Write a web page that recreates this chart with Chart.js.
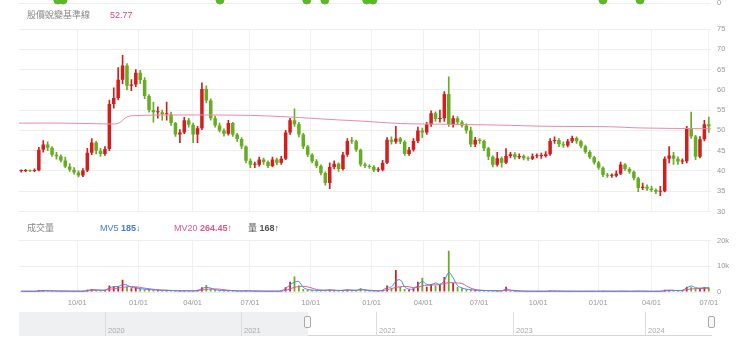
<!DOCTYPE html>
<html>
<head>
<meta charset="utf-8">
<script src="https://cdn.jsdelivr.net/npm/chart.js@4.4.1/dist/chart.umd.min.js"></script>
<style>
  body { margin: 0; background: #fff; font-family: "Liberation Sans", Arial, "Noto Sans CJK TC", sans-serif; }
  #wrap { position: relative; width: 740px; height: 354px; overflow: hidden; }
  canvas { position: absolute; left: 0; }
  .txt { position: absolute; font-size: 9px; line-height: 12px; white-space: nowrap; color: #888; }
  .txt b { font-weight: bold; }
  .nav { position: absolute; }
  .yr { position: absolute; font-size: 7.5px; line-height: 10px; color: #aaa; }
  .handle { position: absolute; width: 5px; height: 10px; border: 1px solid #aaa; border-radius: 2px; background: #f7f7f7; }
</style>
</head>
<body>
<div id="wrap">
  <canvas id="topChart" width="740" height="12" style="top:0"></canvas>
  <canvas id="priceChart" width="740" height="222" style="top:0"></canvas>
  <canvas id="volChart" width="740" height="80" style="top:230px"></canvas>

  <div class="yr" style="left:717px; top:-2px; color:#999;">0</div>
  <div class="txt" style="left:27px; top:9px;">股價蛻變基準線</div>
  <div class="txt" style="left:110px; top:9px; color:#d9487d;">52.77</div>

  <div class="txt" style="left:27px; top:222px;">成交量</div>
  <div class="txt" style="left:100px; top:222px; color:#3f7be0;">MV5 <b>185↓</b></div>
  <div class="txt" style="left:174px; top:222px; color:#e0578c;">MV20 <b>264.45↑</b></div>
  <div class="txt" style="left:248px; top:222px; color:#555;">量 <b>168↑</b></div>

  <!-- navigator -->
  <div class="nav" style="left:19px; top:312px; width:289px; height:24px; background:#eef0f1;"></div>
  <div class="nav" style="left:308px; top:335px; width:404px; height:1px; background:#d5d5d5;"></div>
  <div id="years"></div>
  <div class="handle" style="left:304px; top:316px;"></div>
  <div class="handle" style="left:708px; top:316px;"></div>
</div>

<script>
// weekly candles, Jul 2021 - Jul 2024 (week index 0..156)
const opens = [
  40.0, 40.0, 40.1, 40.0, 40.2, 45.2, 46.5, 45.7, 44.0, 43.6,
  42.6, 41.1, 40.3, 39.6, 38.9, 40.1, 44.5, 47.0, 45.0, 44.2,
  45.4, 56.5, 58.0, 62.5, 66.0, 61.0, 61.3, 64.2, 62.4, 58.5,
  55.0, 54.5, 54.5, 54.0, 54.0, 51.8, 49.0, 49.5, 52.5, 51.4,
  49.0, 50.5, 60.2, 57.4, 53.0, 51.2, 50.0, 49.2, 51.8, 49.0,
  47.9, 46.0, 42.5, 41.5, 41.5, 42.8, 42.2, 41.2, 42.8, 42.0,
  43.0, 49.5, 52.5, 51.5, 49.0, 46.0, 44.0, 42.4, 41.2, 39.5,
  37.0, 41.0, 41.8, 40.5, 44.0, 47.4, 47.3, 45.2, 41.6, 41.2,
  41.0, 40.2, 40.3, 42.0, 47.7, 47.2, 48.0, 47.2, 44.2, 45.2,
  47.4, 50.0, 49.5, 51.5, 54.2, 52.8, 53.0, 59.0, 51.5, 53.0,
  52.0, 51.2, 50.0, 46.5, 47.7, 47.4, 45.6, 43.5, 41.5, 43.1,
  42.0, 43.7, 44.1, 43.4, 43.7, 43.1, 43.0, 43.6, 43.7, 43.7,
  44.1, 47.4, 47.6, 46.6, 46.3, 47.3, 48.1, 47.3, 46.1, 44.7,
  43.4, 42.1, 40.8, 39.0, 38.8, 38.8, 39.3, 41.6, 40.5, 39.8,
  38.2, 35.8, 36.1, 35.7, 35.3, 34.9, 35.0, 43.0, 43.8, 43.0,
  42.3, 42.4, 50.5, 48.5, 43.5, 47.8, 51.5
];
const closes = [
  40.0, 40.1, 40.0, 40.2, 45.2, 46.5, 45.7, 44.0, 43.6, 42.6,
  41.1, 40.3, 39.6, 38.9, 40.1, 44.5, 47.0, 45.0, 44.2, 45.4,
  56.5, 58.0, 62.5, 66.0, 61.0, 61.3, 64.2, 62.4, 58.5, 55.0,
  54.5, 54.5, 54.0, 54.0, 51.8, 49.0, 49.5, 52.5, 51.4, 49.0,
  50.5, 60.2, 57.4, 53.0, 51.2, 50.0, 49.2, 51.8, 49.0, 47.9,
  46.0, 42.5, 41.5, 41.5, 42.8, 42.2, 41.2, 42.8, 42.0, 43.0,
  49.5, 52.5, 51.5, 49.0, 46.0, 44.0, 42.4, 41.2, 39.5, 37.0,
  41.0, 41.8, 40.5, 44.0, 47.4, 47.3, 45.2, 41.6, 41.2, 41.0,
  40.2, 40.3, 42.0, 47.7, 47.2, 48.0, 47.2, 44.2, 45.2, 47.4,
  50.0, 49.5, 51.5, 54.2, 52.8, 53.0, 59.0, 51.5, 53.0, 52.0,
  51.2, 50.0, 46.5, 47.7, 47.4, 45.6, 43.5, 41.5, 43.1, 42.0,
  43.7, 44.1, 43.4, 43.7, 43.1, 43.0, 43.6, 43.7, 43.7, 44.1,
  47.4, 47.6, 46.6, 46.3, 47.3, 48.1, 47.3, 46.1, 44.7, 43.4,
  42.1, 40.8, 39.0, 38.8, 38.8, 39.3, 41.6, 40.5, 39.8, 38.2,
  35.8, 36.1, 35.7, 35.3, 34.9, 35.0, 43.0, 43.8, 43.0, 42.3,
  42.4, 50.5, 48.5, 43.5, 47.8, 51.5, 51.0
];
const highs = [
  40.3, 40.4, 40.3, 40.5, 45.8, 47.5, 47.2, 46.0, 44.6, 44.0,
  43.4, 41.8, 40.8, 40.0, 40.6, 45.6, 48.0, 47.3, 45.6, 46.0,
  57.5, 60.5, 65.5, 68.5, 66.5, 62.5, 65.0, 64.8, 63.0, 58.8,
  57.0, 55.8, 55.0, 57.0, 54.5, 52.0, 50.2, 53.2, 53.0, 51.8,
  51.0, 61.7, 61.0, 57.8, 53.5, 51.8, 50.4, 52.5, 52.0, 49.3,
  48.2, 46.2, 43.0, 42.2, 43.4, 43.2, 42.5, 43.4, 43.2, 43.6,
  50.0, 53.0, 55.3, 52.0, 49.3, 46.3, 44.3, 42.8, 41.5, 39.8,
  42.0, 42.5, 42.0, 44.6, 48.0, 48.3, 47.6, 45.4, 42.0, 41.6,
  41.3, 40.8, 42.6, 48.2, 48.4, 51.0, 48.3, 47.5, 45.8, 48.0,
  50.8, 50.6, 52.0, 54.8, 54.6, 55.0, 59.6, 63.2, 53.6, 53.4,
  52.4, 51.6, 50.8, 48.3, 48.0, 47.6, 45.8, 43.7, 44.6, 43.5,
  45.5, 44.6, 44.5, 44.2, 44.0, 43.5, 44.2, 44.2, 44.4, 44.8,
  48.0, 48.4, 48.0, 47.2, 47.8, 48.6, 48.4, 47.6, 46.4, 45.0,
  43.6, 42.4, 41.0, 39.4, 39.3, 40.0, 42.2, 41.8, 40.8, 40.0,
  38.4, 37.0, 36.6, 36.2, 35.6, 36.2, 43.5, 46.0, 44.6, 43.5,
  43.0, 51.0, 54.5, 48.8, 48.5, 52.5, 53.3
];
const lows = [
  39.7, 39.8, 39.8, 39.8, 40.0, 44.6, 45.0, 43.6, 42.9, 42.2,
  40.8, 39.9, 39.2, 38.5, 38.6, 39.8, 44.0, 44.2, 43.6, 43.8,
  45.0, 55.5, 57.5, 61.5, 60.0, 59.8, 60.8, 61.5, 57.8, 54.5,
  52.0, 53.0, 52.5, 52.5, 51.2, 48.5, 47.0, 49.2, 50.8, 47.0,
  47.0, 50.2, 56.8, 52.5, 50.8, 49.6, 48.6, 48.8, 48.5, 47.3,
  45.5, 42.0, 40.8, 40.8, 41.2, 41.6, 40.8, 41.0, 41.5, 41.6,
  42.8, 49.0, 51.0, 48.4, 45.5, 43.5, 42.0, 40.8, 39.0, 36.5,
  35.6, 40.5, 39.9, 40.2, 43.6, 46.8, 44.8, 41.2, 40.8, 40.6,
  39.8, 39.8, 40.0, 41.8, 46.6, 46.8, 46.7, 43.8, 43.8, 44.9,
  47.0, 48.2, 49.0, 51.0, 52.2, 52.0, 52.2, 51.0, 50.8, 51.4,
  50.8, 49.3, 46.0, 46.0, 46.8, 45.0, 42.8, 41.0, 41.2, 40.9,
  41.8, 43.2, 42.9, 43.0, 42.7, 42.6, 42.8, 43.2, 43.1, 43.4,
  43.8, 46.8, 46.0, 45.8, 45.9, 47.0, 46.8, 45.7, 44.3, 43.0,
  41.7, 40.4, 38.6, 38.4, 38.4, 38.5, 39.1, 40.1, 39.4, 37.8,
  34.9, 35.4, 35.2, 34.9, 34.4, 33.9, 34.8, 42.0, 41.6, 41.6,
  41.8, 42.0, 48.0, 42.8, 43.2, 47.4, 49.5
];

// 股價蛻變基準線 (read at a few week positions)
const baseWeeks = [-0.5, 9, 19.5, 21.5, 22.5, 23.5, 25, 36, 52, 61, 70, 77, 86, 97, 108.5, 120, 133.5, 140.5, 156.5];
const baseVals = [51.8, 51.8, 51.6, 51.6, 52.0, 53.0, 53.6, 53.8, 53.7, 53.3, 52.7, 52.3, 51.7, 51.5, 51.3, 51.0, 50.9, 50.6, 50.4];

// volume (lots) and its moving averages
const volumes = [
  300, 280, 260, 300, 700, 600, 450, 380, 340, 320,
  300, 280, 300, 350, 320, 900, 1200, 700, 600, 800,
  2500, 2000, 2200, 4800, 2000, 1500, 1800, 1200, 1000, 900,
  800, 700, 600, 700, 500, 450, 400, 500, 450, 400,
  800, 1800, 2700, 1200, 800, 600, 500, 600, 450, 400,
  380, 500, 400, 350, 330, 320, 300, 350, 320, 500,
  1800, 4000, 6000, 2500, 1200, 900, 700, 600, 650, 700,
  900, 600, 500, 700, 900, 700, 600, 1500, 600, 500,
  450, 400, 800, 2500, 1500, 8500, 2000, 1200, 1000, 1500,
  4000, 5500, 2000, 3000, 2500, 3000, 5800, 16000, 3500, 2000,
  1500, 1000, 900, 700, 600, 550, 500, 500, 450, 400,
  2000, 400, 350, 320, 300, 300, 280, 300, 320, 300,
  450, 400, 320, 300, 300, 320, 300, 280, 300, 320,
  300, 320, 350, 300, 280, 300, 350, 300, 280, 320,
  380, 300, 280, 260, 300, 320, 900, 800, 600, 500,
  700, 2000, 1800, 1500, 1600, 1800, 1700
];
const mv5 = [
  300, 290, 280, 290, 420, 560, 520, 430, 370, 330,
  310, 290, 300, 330, 330, 600, 900, 850, 700, 700,
  1600, 2100, 2100, 2900, 2700, 1800, 1600, 1300, 1100, 950,
  850, 750, 650, 650, 560, 480, 430, 470, 460, 420,
  650, 1300, 1800, 1500, 900, 650, 520, 560, 480, 420,
  390, 460, 420, 360, 340, 320, 310, 340, 330, 450,
  1400, 2800, 3800, 4000, 1800, 1000, 750, 620, 640, 680,
  850, 650, 520, 650, 850, 720, 620, 1100, 800, 520,
  460, 420, 700, 1800, 2000, 4200, 4700, 2000, 1100, 1300,
  2800, 4000, 3000, 2800, 3500, 3000, 4500, 7500, 5500, 2500,
  1600, 1100, 900, 720, 620, 560, 510, 500, 460, 420,
  1200, 700, 380, 330, 310, 300, 290, 300, 310, 300,
  400, 400, 340, 310, 300, 310, 300, 290, 300, 310,
  300, 310, 330, 310, 290, 300, 330, 310, 290, 310,
  350, 320, 290, 270, 290, 310, 600, 750, 650, 520,
  650, 1600, 2300, 1700, 1500, 1700, 1650
];
const mv20 = [
  300, 300, 295, 290, 320, 380, 420, 450, 440, 420,
  400, 370, 340, 320, 320, 420, 580, 680, 720, 720,
  1000, 1300, 1500, 1800, 2000, 2100, 2000, 1800, 1500, 1250,
  1050, 880, 760, 680, 600, 540, 490, 470, 460, 450,
  500, 750, 1000, 1150, 1200, 1100, 900, 700, 560, 480,
  440, 430, 420, 400, 380, 350, 330, 330, 330, 370,
  650, 1200, 1800, 2100, 2200, 2000, 1500, 1000, 760, 680,
  700, 700, 650, 650, 700, 720, 680, 800, 800, 700,
  600, 500, 550, 900, 1300, 1800, 2000, 2200, 2000, 1700,
  1800, 2400, 2600, 2700, 2800, 2900, 3300, 3600, 3600, 3500,
  3300, 2400, 1500, 1000, 750, 620, 560, 520, 480, 450,
  650, 700, 620, 460, 360, 330, 310, 300, 305, 305,
  330, 350, 340, 320, 305, 305, 300, 295, 295, 300,
  300, 305, 315, 315, 305, 300, 310, 310, 300, 300,
  320, 320, 305, 290, 285, 290, 400, 500, 560, 580,
  600, 900, 1200, 1300, 1350, 1400, 1450
];

// marks of the panel above (only their bottoms show)
const topMarks = [8.3, 9.5, 45.1, 64.8, 68.9, 78.4, 79.8, 132, 140.4];

// axis ticks
const tickWeeks = [12.7, 26.6, 38.9, 51.9, 65.7, 79.5, 91.2, 103.9, 117.3, 130.9, 143.0, 156.0];
const tickLabels = ['10/01', '01/01', '04/01', '07/01', '10/01', '01/01', '04/01', '07/01', '10/01', '01/01', '04/01', '07/01'];
const priceTicks = [30, 35, 40, 45, 50, 55, 60, 65, 70, 75];
const volTicks = [0, 10000, 20000];

// navigator years
const years = ['2020', '2021', '2022', '2023', '2024'];
const yearX = [105, 241, 376, 513, 645];

const RED = '#d11f1f';
const GREEN = '#66ad22';
const tickFont = { size: 7.5, family: '"Liberation Sans", Arial, sans-serif' };

Chart.defaults.font.family = '"Liberation Sans", Arial, "Noto Sans CJK TC", sans-serif';
Chart.defaults.animation = false;
Chart.defaults.plugins.legend.display = false;
Chart.defaults.plugins.tooltip.enabled = false;

function xScale(showLabels) {
    return {
        type: 'linear',
        min: -0.5,
        max: 156.5,
        offset: false,
        afterBuildTicks: s => { s.ticks = tickWeeks.map(v => ({ value: v })); },
        ticks: {
            display: showLabels,
            autoSkip: false,
            maxRotation: 0,
            padding: 6,
            color: '#999',
            font: tickFont,
            callback: (v, i) => tickLabels[i]
        },
        grid: { color: '#f0f0f0', drawTicks: false, offset: false },
        border: { display: false },
        afterFit: s => { s.height = showLabels ? 16 : 0; }
    };
}

function rightAxis(min, max, ticks, fmt, showLabels) {
    return {
        position: 'right',
        min: min,
        max: max,
        afterBuildTicks: s => { s.ticks = ticks.map(v => ({ value: v })); },
        ticks: { display: showLabels, padding: 6, color: '#999', font: tickFont, callback: fmt },
        grid: { color: '#eeeeee', drawTicks: false },
        border: { display: false },
        afterFit: s => { s.width = 29; }
    };
}

// Nudge layout padding until the plot area sits where it should
function fitArea(chart, pad, target) {
    for (let k = 0; k < 3; k++) {
        const a = chart.chartArea;
        pad.left += target.left - a.left;
        pad.top += target.top - a.top;
        pad.right += a.right - target.right;
        pad.bottom += a.bottom - target.bottom;
        chart.update();
    }
}

let candleColors = closes.map((c, i) => c >= opens[i] ? RED : GREEN);

// Price panel
let pricePad = { left: 19, top: 29, right: 0, bottom: 3 };
let priceChart = new Chart(document.getElementById('priceChart'), {
    type: 'bar',
    data: {
        datasets: [
            {
                type: 'line',
                data: baseWeeks.map((w, i) => ({ x: w, y: baseVals[i] })),
                borderColor: '#e88aab',
                borderWidth: 1,
                pointRadius: 0,
                tension: 0.3
            },
            {
                data: closes.map((c, i) => ({ x: i, y: [opens[i], c] })),
                backgroundColor: candleColors,
                grouped: false,
                barPercentage: 0.8,
                categoryPercentage: 1,
                minBarLength: 1
            },
            {
                data: highs.map((h, i) => ({ x: i, y: [lows[i], h] })),
                backgroundColor: candleColors,
                grouped: false,
                barThickness: 1
            }
        ]
    },
    options: {
        responsive: false,
        devicePixelRatio: 1,
        layout: { padding: pricePad, autoPadding: false },
        scales: {
            x: xScale(false),
            y: rightAxis(30, 75, priceTicks, v => v, true)
        }
    }
});
fitArea(priceChart, pricePad, { left: 19, top: 29, right: 711, bottom: 213 });

// Volume panel
let volPad = { left: 19, top: 10, right: 0, bottom: 2 };
let volChart = new Chart(document.getElementById('volChart'), {
    type: 'bar',
    data: {
        datasets: [
            {
                type: 'line',
                data: mv5.map((v, i) => ({ x: i, y: v })),
                borderColor: '#4b84e6',
                borderWidth: 1,
                pointRadius: 0,
                tension: 0.4
            },
            {
                type: 'line',
                data: mv20.map((v, i) => ({ x: i, y: v })),
                borderColor: '#e5588f',
                borderWidth: 1,
                pointRadius: 0,
                tension: 0.4
            },
            {
                data: volumes.map((v, i) => ({ x: i, y: v })),
                backgroundColor: candleColors,
                grouped: false,
                barPercentage: 0.4,
                categoryPercentage: 1
            }
        ]
    },
    options: {
        responsive: false,
        devicePixelRatio: 1,
        layout: { padding: volPad, autoPadding: false },
        scales: {
            x: xScale(true),
            y: rightAxis(0, 20000, volTicks, v => v === 0 ? '0' : (v / 1000) + 'k', true)
        }
    }
});
fitArea(volChart, volPad, { left: 19, top: 10, right: 711, bottom: 62 });

// strip of the panel above
let topPad = { left: 19, top: 0, right: 0, bottom: 6 };
let topChart = new Chart(document.getElementById('topChart'), {
    type: 'scatter',
    data: {
        datasets: [{
            data: topMarks.map(w => ({ x: w, y: 1.0 })),
            backgroundColor: '#5cb82a',
            borderColor: '#5cb82a',
            pointRadius: 4,
            clip: false
        }]
    },
    options: {
        responsive: false,
        devicePixelRatio: 1,
        layout: { padding: topPad, autoPadding: false },
        scales: {
            x: { type: 'linear', min: -0.5, max: 156.5, display: false },
            y: rightAxis(-1, 1, [0], v => v, false)
        }
    }
});
fitArea(topChart, topPad, { left: 19, top: 0, right: 711, bottom: 6 });

// navigator year marks
let yearsHtml = '';
years.forEach((y, i) => {
    yearsHtml += `<div class="nav" style="left:${yearX[i]}px; top:312px; width:1px; height:24px; background:#dcdcdc;"></div>`;
    yearsHtml += `<div class="yr" style="left:${yearX[i] + 3}px; top:326px;">${y}</div>`;
});
document.getElementById('years').innerHTML = yearsHtml;
</script>
</body>
</html>
